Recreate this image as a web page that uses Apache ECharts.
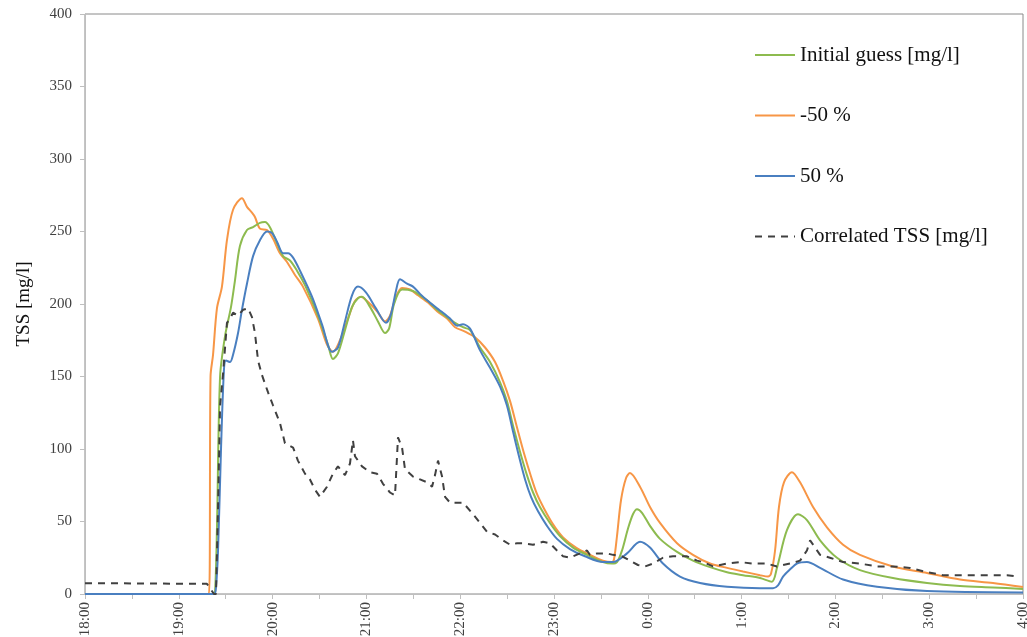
<!DOCTYPE html>
<html>
<head>
<meta charset="utf-8">
<script src="https://cdn.jsdelivr.net/npm/echarts@6/dist/echarts.min.js"></script>
<style>
html,body{margin:0;padding:0;background:#fff;}
#chart{width:1027px;height:637px;}
</style>
</head>
<body>
<div id="chart"></div>
<script>
// time in minutes after 18:00
const hourLabels = ['18:00','19:00','20:00','21:00','22:00','23:00','0:00','1:00','2:00','3:00','4:00'];
const seriesNames = ['Initial guess [mg/l]','-50 %','50 %','Correlated TSS [mg/l]'];

const greenT = [0,81.9,83.2,84.4,86.4,89.6,93.4,95.9,99.1,103.6,107.5,111.9,115.1,118.3,122.8,126.7,131.1,135.6,140.7,149.0,155.4,158.6,161.8,166.3,170.8,174.6,177.2,182.3,187.4,191.9,194.5,197.7,202.8,209.8,214.3,219.4,225.2,230.3,236.7,241.8,246.3,252.7,259.1,265.5,269.9,273.8,278.3,282.7,286.6,291.0,297.4,303.8,312.2,321.1,331.3,337.1,340.3,343.5,347.3,350.5,353.1,356.3,361.4,367.8,378.7,388.9,399.8,410.7,420.9,431.8,439.4,442.6,449.0,456.1,461.8,470.2,481.0,495.7,516.8,538.6,559.7,580.8,600];
const greenV = [0,0,2,45,150,178,198,216,240,251,253,256,256.5,253,242,233,230,223,213,192,172,162,166,182,198,204,205,198,188,180,183,200,210,209,206,202,196,192,187,184,182,170,160,146,133,116,98,82,70,60,49,40,32,27,22,21,22,30,45,55,58.5,56,47,38,29,23,18.5,15,13,11,8.5,18,44,55,51,37,25,16.5,11,7.6,5.5,4.5,3.5];

const orangeT = [0,79.3,80.3,81.9,84.4,87.6,90.8,94.7,100.4,103.6,106.8,108.7,111.9,116.4,120.3,124.7,129.2,134.3,139.4,149.0,154.8,158.6,163.1,167.6,172.7,176.5,180.4,186.8,191.9,195.1,198.9,202.8,207.9,213.0,219.4,225.2,231.6,236.7,243.1,249.5,255.9,262.3,267.4,271.9,276.3,280.8,285.3,289.1,293.6,299.4,305.8,314.1,323.0,331.3,337.1,338.4,340.3,342.9,346.1,348.6,355.0,361.4,367.8,378.7,388.9,399.8,410.7,420.9,431.8,436.9,438.8,441.4,443.9,447.1,452.2,457.4,465.7,474.6,484.9,495.7,516.8,538.6,559.7,580.8,600];
const orangeV = [0,0,150,165,197,212,244,265,273,267,263,260,252,251,245,235,229,220,212,190,172,167,175,188,202,205,202,195,188,192,205,211,210,206,201,195,190,184,181,177,170,160,147,133,115,97,81,69,59,48,39,32,27,23,22,24,40,65,80,83.4,74,60,49,35,27,21,18,15.5,13,12,14,30,60,77,84,77,60,46,34,27,19,14.5,10,7.6,4.8];

const blueT = [0,82.5,83.8,85.1,87.0,88.9,90.2,92.8,94.7,97.9,100.4,103.6,107.5,111.9,116.4,119.6,122.8,126.7,129.9,133.1,137.5,145.2,151.6,158.0,161.8,166.3,170.8,174.6,179.7,186.1,192.5,195.7,198.9,201.5,206.0,209.8,214.3,219.4,225.2,229.0,233.5,238.0,241.8,246.3,252.7,259.1,265.5,269.9,273.8,277.6,281.5,285.3,289.8,295.5,301.9,310.2,319.8,331.3,337.7,346.7,355.0,361.4,369.7,380.6,393.4,410.7,431.8,440.1,443.3,446.5,451.0,455.4,461.8,470.2,484.9,506.6,538.6,600];
const blueV = [0,0,5,30,100,155,161,160,165,180,196,214,233,244,250,249,243,235,235,232,223,205,186,167,170,188,206,212,208,197,187,193,209,217,214,212,207,202,197,194,190,185,186,183,168,156,143,130,112,95,79,67,57,47,38,31,26,22,22,28,36,32,21,12,7.6,5,4,4,6,12,17,21,22,18,10,5,2,1];

const tssT = [0,78.0,80.0,82.5,83.8,85.1,86.4,88.3,90.8,92.8,94.7,97.9,101.1,104.3,106.8,108.7,110.7,113.2,117.1,120.3,124.7,127.9,133.1,136.2,140.7,143.9,147.1,150.3,154.8,158.6,161.8,166.3,169.5,171.4,172.7,177.2,182.3,186.8,190.6,195.1,198.3,199.6,200.2,202.8,204.7,209.8,214.3,218.8,222.0,223.9,225.8,228.4,230.3,233.5,241.8,247.5,252.7,257.1,262.3,267.4,271.9,276.3,280.2,286.6,293.0,297.4,301.9,305.8,310.2,316.6,321.1,323.0,327.5,333.9,337.7,343.5,348.6,353.7,358.2,363.3,369.7,376.1,385.1,391.5,395.3,401.7,410.7,419.0,427.3,436.2,442.6,451.0,457.4,461.8,463.8,467.0,470.2,476.5,484.9,495.7,506.6,516.8,527.7,538.6,548.8,570.6,589.8,596.2];
const tssV = [7.5,7,4,0,0,60,130,152,187,190,194,192,196,197,191,180,161,151,139,130,118,104,101,92,83,79,72,67,74,83,88,82,90,106,95,88,84,83,76,70,68,95,108,101,86,81,79,77,74,82,92,81,67,63,63,56,49,43,41,37,34,35,35,34,36,35,30,26,25,28,30,27,28,28,27,26,23,20,19,21,25,26,26,23,22,19,21,22,21,21,19,21,23,30,37,32,27,25,22,21,19,19,18,15,13,13,13,12];

const zip = (t, v) => t.map((x, i) => [x, v[i]]);
const serif = '"Liberation Serif","Times New Roman","DejaVu Serif",serif';

const chart = echarts.init(document.getElementById('chart'), null, {renderer: 'canvas'});
const lineCommon = {type: 'line', symbol: 'none', showSymbol: false, animation: false};
chart.setOption({
  animation: false,
  backgroundColor: '#ffffff',
  grid: {left: 85, right: 4, top: 14, bottom: 43, show: true, borderColor: '#8a8a8a', borderWidth: 1,
    containLabel: false, outerBoundsMode: 'none'},
  legend: {
    orient: 'vertical', left: 749, top: 38, itemWidth: 40, itemHeight: 14, itemGap: 36.5,
    data: seriesNames,
    itemStyle: {opacity: 0},
    textStyle: {fontFamily: serif, fontSize: 21, color: '#111', lineHeight: 24}
  },
  xAxis: {
    type: 'value', min: 0, max: 600, interval: 60,
    axisLine: {show: true, lineStyle: {color: '#bfbfbf', width: 1}},
    axisTick: {show: true, length: 5, lineStyle: {color: '#bfbfbf'}},
    minorTick: {show: true, splitNumber: 2, length: 5, lineStyle: {color: '#bfbfbf'}},
    splitLine: {show: false},
    axisLabel: {
      rotate: 90, margin: 8, fontFamily: serif, fontSize: 15, color: '#404040',
      formatter: v => hourLabels[Math.round(v / 60)]
    }
  },
  yAxis: {
    type: 'value', min: 0, max: 400, interval: 50,
    name: 'TSS [mg/l]', nameLocation: 'middle', nameGap: 51, nameRotate: 90,
    nameTextStyle: {fontFamily: serif, fontSize: 19, color: '#111'},
    axisLine: {show: true, lineStyle: {color: '#bfbfbf', width: 1}},
    axisTick: {show: true, length: 5, lineStyle: {color: '#bfbfbf'}},
    splitLine: {show: false},
    axisLabel: {fontFamily: serif, fontSize: 15, color: '#404040', margin: 13}
  },
  series: [
    Object.assign({}, lineCommon, {name: seriesNames[0], data: zip(greenT, greenV), smooth: 0.3, z: 3,
      lineStyle: {color: '#8dbb4f', width: 2}, itemStyle: {color: '#8dbb4f'}}),
    Object.assign({}, lineCommon, {name: seriesNames[1], data: zip(orangeT, orangeV), smooth: 0.3, z: 2,
      lineStyle: {color: '#f79646', width: 2}, itemStyle: {color: '#f79646'}}),
    Object.assign({}, lineCommon, {name: seriesNames[2], data: zip(blueT, blueV), smooth: 0.3, z: 4,
      lineStyle: {color: '#4a7fc0', width: 2}, itemStyle: {color: '#4a7fc0'}}),
    Object.assign({}, lineCommon, {name: seriesNames[3], data: zip(tssT, tssV), z: 5,
      lineStyle: {color: '#404040', width: 2, type: [7, 6]}, itemStyle: {color: '#404040'}})
  ]
});
</script>
</body>
</html>
